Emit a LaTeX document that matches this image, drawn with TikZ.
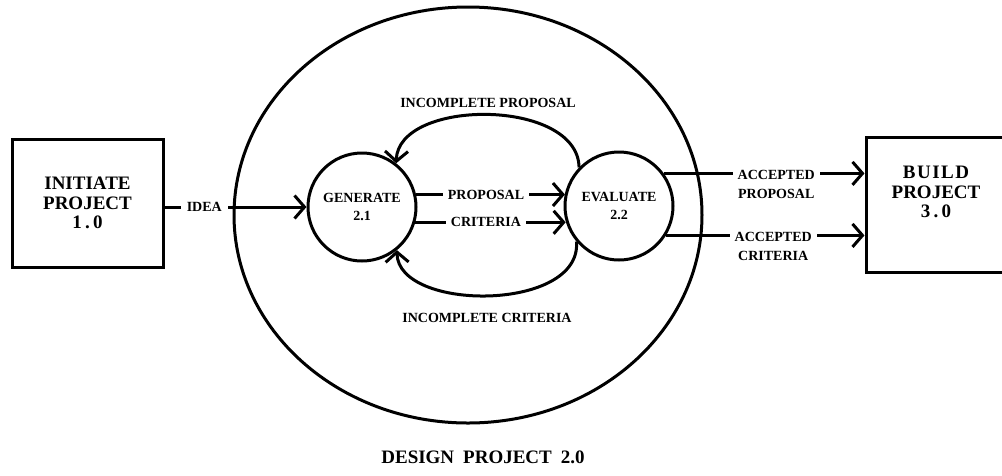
\documentclass[tikz,border=0pt]{standalone}
\usepackage{fontspec}
\setmainfont{Liberation Serif}
\usetikzlibrary{arrows.meta,shapes.geometric}
\begin{document}
\begin{tikzpicture}[x=1pt,y=-1pt,
  line width=3pt,
  arr/.style={-{Straight Barb[length=10pt,width=23pt]}},
  lbl/.style={font=\fontsize{14}{19}\selectfont\bfseries, inner xsep=5pt, inner ysep=2pt},
  onlbl/.style={lbl, fill=white},
  big/.style={font=\fontsize{19}{19.5}\selectfont\bfseries, align=center},
  proc/.style={draw, circle, minimum size=108pt, inner sep=0pt, align=center,
    font=\fontsize{14}{18}\selectfont\bfseries},
  ext/.style={draw, rectangle, inner sep=0pt}
]
\useasboundingbox (0,0) rectangle (1002,475);

% outer process
\node[draw, ellipse, minimum width=468pt, minimum height=416pt, inner sep=0pt] (d) at (468,215) {};
\node[big] (dl) at (483,457) {DESIGN\hspace{9pt}PROJECT\hspace{9pt}2.0};

% external entities
\node[ext, big, minimum width=151pt, minimum height=128pt] (i) at (87.5,203) {INITIATE\\PROJECT\\1\,.\,0};
\node[ext, minimum width=146pt, minimum height=135pt] (b) at (939,204.5) {};
\node[big] (bt) at (936,192) {{\addfontfeatures{LetterSpace=8}BUILD}\\PROJECT\\3\,.\,0};

% inner processes
\node[proc] (g) at (362,207) {GENERATE\\2.1};
\node[proc] (e) at (619,206) {EVALUATE\\2.2};

% flows
\draw[arr] (i.east |- g.west) -- node[onlbl, pos=0.28, inner xsep=6pt] (idea) {IDEA} (g.west);
\draw[arr] (g.13) -- node[onlbl, pos=0.47] (prop) {PROPOSAL} (g.13 -| e.167);
\draw[arr] (g.-16) -- node[onlbl, pos=0.47] (crit) {CRITERIA} (g.-16 -| e.196);

\draw[arr] (e.136) .. controls (578,98) and (398,98) .. (g.52);
\draw[arr] (e.-140) .. controls (582,312) and (398,312) .. (g.-51);
\node[lbl] (ip) at (488,103) {INCOMPLETE PROPOSAL};
\node[lbl] (ic) at (487,318) {INCOMPLETE CRITERIA};

\draw[arr] (e.36) -- node[onlbl, align=center, pos=0.56, anchor=north, yshift=6.7pt] (ap) {ACCEPTED\\PROPOSAL} (e.36 -| b.west);
\draw[arr] (e.-32) -- node[onlbl, align=center, pos=0.54, anchor=north, yshift=6.7pt] (ac) {ACCEPTED\\CRITERIA} (e.-32 -| b.west);
\end{tikzpicture}
\end{document}
